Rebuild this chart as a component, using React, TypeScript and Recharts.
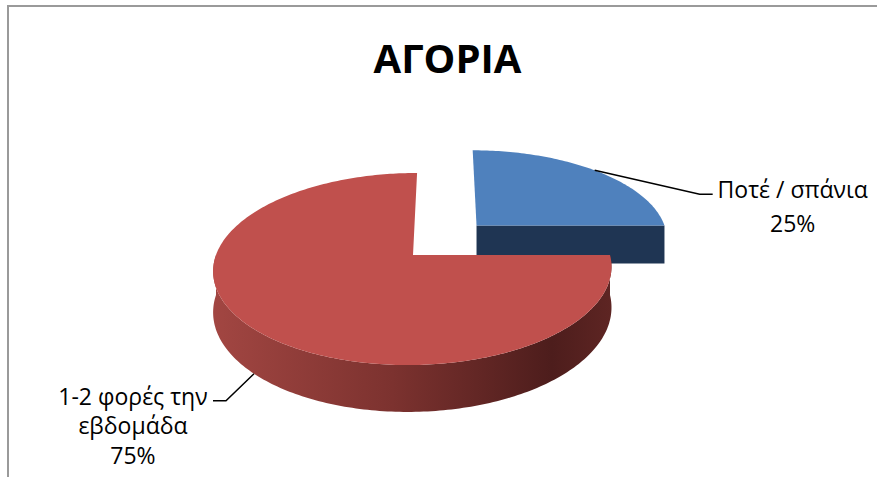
import React from 'react';
import { PieChart, Pie, Cell } from 'recharts';

// ---- data ----
const chartTitle = 'ΑΓΟΡΙΑ';
const categories = ['Ποτέ / σπάνια', '1-2 φορές την εβδομάδα'];
const shares = [25, 75];
// how each category name is broken over lines in its label
const labelLines = [['Ποτέ / σπάνια'], ['1-2 φορές την', 'εβδομάδα']];

const data = categories.map((name, i) => ({ name, value: shares[i] }));

// ---- styling ----
const TOP_COLORS = ['#4f81bd', '#c0504d'];
const EDGE_COLORS = ['#1f3553', '#6e2a28'];
const SIDE_STOPS = [
  [
    ['0%', '#2c4a74'],
    ['100%', '#1b2e48'],
  ],
  [
    ['0%', '#a24642'],
    ['45%', '#7c322f'],
    ['85%', '#4d1d1c'],
    ['100%', '#5e2523'],
  ],
];
const EXPLODE = [0.467, 0]; // fraction of radius each slice is pulled out
const LABEL_ELBOW = [
  [105, 24],
  [-28, 27],
];
const LABEL_LINE_GAP = [34, 29.5];

const W = 877;
const H = 477;
const CX = 413;
const CY = 255;
const R = 197;
const VANISH_X = 445; // horizontal centre of the perspective
const TILT = 94 / 197; // vertical squash of the pie plane
const PERSP = 0.146; // perspective: the back of the pie shrinks
const DEPTH = 40; // thickness of the pie
const RAD = Math.PI / 180;
const FONT = "'Open Sans', 'Noto Sans', sans-serif";

function project(cx: number, cy: number, r: number, X: number, Z: number, down: boolean) {
  const s = 1 / (1 + PERSP * Z);
  const px = cx + r * X;
  return [VANISH_X + (px - VANISH_X) * s, cy - r * TILT * Z * s + (down ? DEPTH * s : 0)];
}

function sliceIndex(props: any) {
  const n = props.name ?? props.payload?.name;
  const i = categories.indexOf(n);
  return i < 0 ? 0 : i;
}

function offsetOf(idx: number, midAngle: number) {
  const e = EXPLODE[idx] || 0;
  return [e * Math.cos(midAngle * RAD), e * Math.sin(midAngle * RAD)];
}

const fmt = (p: number[]) => `${p[0].toFixed(2)},${p[1].toFixed(2)}`;

function Slice3D(props: any) {
  const { cx, cy, outerRadius, startAngle, endAngle, midAngle } = props;
  const idx = sliceIndex(props);
  const [ox, oz] = offsetOf(idx, midAngle);
  const a0 = Math.min(startAngle, endAngle);
  const a1 = Math.max(startAngle, endAngle);
  const rim = (deg: number, down: boolean) =>
    project(cx, cy, outerRadius, ox + Math.cos(deg * RAD), oz + Math.sin(deg * RAD), down);
  const hub = (down: boolean) => project(cx, cy, outerRadius, ox, oz, down);

  const arcPts = (from: number, to: number, down: boolean) => {
    const pts: number[][] = [];
    for (let d = from; d < to; d += 1) pts.push(rim(d, down));
    pts.push(rim(to, down));
    return pts;
  };

  // top face
  const topPts = [hub(false), ...arcPts(a0, a1, false)];
  const topPath = 'M' + topPts.map(fmt).join('L') + 'Z';

  // outer wall: only the front half faces the viewer
  const walls: string[] = [];
  for (let k = -1; k <= 1; k++) {
    const s = Math.max(a0, 180 + 360 * k);
    const e = Math.min(a1, 360 + 360 * k);
    if (e > s) {
      const upper = arcPts(s, e, false);
      const lower = arcPts(s, e, true).reverse();
      walls.push('M' + [...upper, ...lower].map(fmt).join('L') + 'Z');
    }
  }

  // radial cut faces that turn towards the viewer
  const cuts: string[] = [];
  const cutFace = (deg: number) =>
    'M' + [hub(false), rim(deg, false), rim(deg, true), hub(true)].map(fmt).join('L') + 'Z';
  if (Math.cos(a0 * RAD) > 0.01) cuts.push(cutFace(a0));
  if (Math.cos(a1 * RAD) < -0.01) cuts.push(cutFace(a1));

  const gid = `wall-grad-${idx}`;
  return (
    <g>
      <defs>
        <linearGradient id={gid} x1="0" y1="0" x2="1" y2="0">
          {SIDE_STOPS[idx].map(([o, c]) => (
            <stop key={o} offset={o} stopColor={c} />
          ))}
        </linearGradient>
      </defs>
      {walls.map((d, i) => (
        <path key={`w${i}`} d={d} fill={`url(#${gid})`} />
      ))}
      {cuts.map((d, i) => (
        <path key={`c${i}`} d={d} fill={EDGE_COLORS[idx]} />
      ))}
      <path d={topPath} fill={TOP_COLORS[idx]} />
    </g>
  );
}

function SliceLabel(props: any) {
  const { cx, cy, outerRadius, midAngle, percent } = props;
  const idx = sliceIndex(props);
  const [ox, oz] = offsetOf(idx, midAngle);
  const m = midAngle * RAD;
  const front = Math.sin(m) < 0;
  const anchor = project(cx, cy, outerRadius, ox + Math.cos(m), oz + Math.sin(m), front);
  const dir = Math.cos(m) >= 0 ? 1 : -1;
  const elbow = [anchor[0] + LABEL_ELBOW[idx][0], anchor[1] + LABEL_ELBOW[idx][1]];
  const end = [elbow[0] + dir * 13, elbow[1]];
  const centerX = end[0] + dir * 80;
  const lines = [...labelLines[idx], `${Math.round(percent * 100)}%`];
  const gap = LABEL_LINE_GAP[idx];
  return (
    <g>
      <polyline
        points={[anchor, elbow, end].map(fmt).join(' ')}
        fill="none"
        stroke="#000"
        strokeWidth={1.5}
      />
      <text textAnchor="middle" fontFamily={FONT} fontSize={23} fill="#000">
        {lines.map((t, i) => (
          <tspan key={i} x={centerX} y={end[1] + 4 + i * gap}>
            {t}
          </tspan>
        ))}
      </text>
    </g>
  );
}

export default function App() {
  return (
    <div
      style={{
        position: 'absolute',
        left: 0,
        top: 0,
        width: W,
        height: H,
        overflow: 'hidden',
        background: '#fff',
      }}
    >
      <PieChart width={W} height={H} margin={{ top: 0, right: 0, bottom: 0, left: 0 }}>
        <path d="M8 490 V6 H890" fill="none" stroke="#9a9a9a" strokeWidth={2} />
        <text
          x={447.5}
          y={73}
          textAnchor="middle"
          fontFamily={FONT}
          fontWeight={700}
          fontSize={40}
          fill="#000"
        >
          {chartTitle}
        </text>
        <Pie
          data={data}
          dataKey="value"
          nameKey="name"
          cx={CX}
          cy={CY}
          outerRadius={R}
          startAngle={0}
          endAngle={360}
          shape={(p: any) => <Slice3D {...p} />}
          label={(p: any) => <SliceLabel {...p} />}
          labelLine={false}
          isAnimationActive={false}
        >
          {data.map((d, i) => (
            <Cell key={d.name} fill={TOP_COLORS[i]} />
          ))}
        </Pie>
      </PieChart>
    </div>
  );
}
